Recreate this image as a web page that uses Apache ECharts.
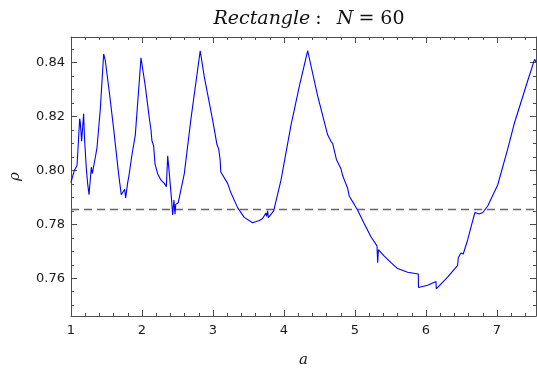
<!DOCTYPE html>
<html>
<head>
<meta charset="utf-8">
<script src="https://cdn.jsdelivr.net/npm/echarts@6/dist/echarts.min.js"></script>
<style>
  html, body { margin: 0; padding: 0; background: #fff; }
  #chart { width: 537px; height: 373px; }
</style>
</head>
<body>
<div id="chart"></div>
<script>
// a values (x) and rho values (y)
const aValues = [
  1.000, 1.020, 1.047, 1.085, 1.105, 1.122, 1.130, 1.150, 1.178, 1.190,
  1.216, 1.235, 1.254, 1.270, 1.286, 1.300, 1.320, 1.342, 1.366, 1.413,
  1.460, 1.483, 1.540, 1.600, 1.670, 1.708, 1.732, 1.756, 1.770, 1.798,
  1.817, 1.860, 1.906, 1.986, 2.047, 2.100, 2.127, 2.140, 2.165, 2.183,
  2.220, 2.268, 2.315, 2.343, 2.350, 2.362, 2.385, 2.418, 2.432, 2.450,
  2.465, 2.475, 2.490, 2.510, 2.596, 2.690, 2.820, 2.877, 2.996, 3.056,
  3.080, 3.100, 3.110, 3.130, 3.206, 3.254, 3.347, 3.440, 3.558, 3.652,
  3.700, 3.723, 3.745, 3.755, 3.770, 3.780, 3.807, 3.855, 3.958, 4.099,
  4.216, 4.334, 4.475, 4.615, 4.662, 4.685, 4.732, 4.740, 4.803, 4.826,
  4.850, 4.896, 4.920, 4.990, 5.038, 5.131, 5.225, 5.310, 5.320, 5.330,
  5.413, 5.507, 5.601, 5.742, 5.892, 5.895, 6.023, 6.141, 6.145, 6.305,
  6.446, 6.455, 6.493, 6.510, 6.525, 6.587, 6.634, 6.690, 6.704, 6.750,
  6.800, 6.870, 7.010, 7.150, 7.244, 7.430, 7.530, 7.550
];
const rhoValues = [
  0.7955, 0.7975, 0.8000, 0.8018, 0.8110, 0.8192, 0.8180, 0.8108, 0.8210, 0.8120,
  0.8006, 0.7950, 0.7910, 0.7916, 0.8012, 0.7988, 0.7982, 0.8048, 0.8084, 0.8228,
  0.8432, 0.8408, 0.8290, 0.8156, 0.7988, 0.7910, 0.7910, 0.7930, 0.7898, 0.7954,
  0.7982, 0.8060, 0.8132, 0.8418, 0.8312, 0.8200, 0.8150, 0.8110, 0.8090, 0.8024,
  0.7988, 0.7964, 0.7952, 0.7940, 0.7935, 0.8054, 0.7988, 0.7886, 0.7835, 0.7890,
  0.7838, 0.7874, 0.7868, 0.7880, 0.7988, 0.8192, 0.8444, 0.8348, 0.8186, 0.8096,
  0.8080, 0.8042, 0.7994, 0.7988, 0.7952, 0.7916, 0.7862, 0.7826, 0.7806, 0.7814,
  0.7822, 0.7826, 0.7842, 0.7830, 0.7850, 0.7825, 0.7830, 0.7850, 0.7964, 0.8168,
  0.8312, 0.8444, 0.8276, 0.8132, 0.8108, 0.8100, 0.8048, 0.8040, 0.8006, 0.7982,
  0.7965, 0.7934, 0.7904, 0.7874, 0.7852, 0.7802, 0.7754, 0.7720, 0.7658, 0.7706,
  0.7682, 0.7658, 0.7636, 0.7622, 0.7616, 0.7566, 0.7574, 0.7588, 0.7561, 0.7604,
  0.7648, 0.7676, 0.7694, 0.7688, 0.7690, 0.7742, 0.7790, 0.7844, 0.7850, 0.7838,
  0.7844, 0.7868, 0.7946, 0.8078, 0.8174, 0.8330, 0.8412, 0.8402
]
const dashedLevel = 0.7855

// tick marks / labels
const xMajorTicks = [1, 2, 3, 4, 5, 6, 7]
const yMajorTicks = [0.76, 0.78, 0.80, 0.82, 0.84]
const xMinorTicks = []
for (let i = 5; i <= 37; i++) xMinorTicks.push(+(i * 0.2).toFixed(2))
const yMinorTicks = []
for (let i = 150; i <= 169; i++) yMinorTicks.push(+(i * 0.005).toFixed(3))

const X_MIN = 1, X_MAX = 7.55
const Y_MIN = 0.746, Y_MAX = 0.8495
const frameColor = '#4d4d4d'
const labelColor = '#1a1a1a'

const chart = echarts.init(document.getElementById('chart'), null, { renderer: 'canvas' })

const lineData = aValues.map((a, i) => [a, rhoValues[i]])
const dashedData = [[X_MIN, dashedLevel], [X_MAX, dashedLevel]]

function makeAxis(kind, position, ticks, tickLen, withLabels, showLine) {
  const axis = {
    type: 'value',
    gridIndex: 0,
    position: position,
    min: kind === 'x' ? X_MIN : Y_MIN,
    max: kind === 'x' ? X_MAX : Y_MAX,
    axisLine: { show: showLine, onZero: false, lineStyle: { color: frameColor, width: 1 } },
    axisTick: {
      show: true,
      inside: true,
      length: tickLen,
      customValues: ticks,
      lineStyle: { color: frameColor, width: 1 }
    },
    axisLabel: { show: false },
    splitLine: { show: false },
    minorTick: { show: false }
  }
  if (withLabels) {
    axis.axisLabel = {
      show: true,
      customValues: ticks,
      fontFamily: 'DejaVu Sans',
      fontSize: 13,
      color: labelColor,
      margin: kind === 'x' ? 8 : 6,
      formatter: kind === 'x' ? (v) => String(Math.round(v)) : (v) => v.toFixed(2)
    }
  }
  return axis
}

const xMain = makeAxis('x', 'bottom', xMajorTicks, 6, true, true)
xMain.name = 'a'
xMain.nameLocation = 'middle'
xMain.nameGap = 37
xMain.nameTextStyle = { fontFamily: 'DejaVu Serif', fontStyle: 'italic', fontSize: 15, color: labelColor }

const yMain = makeAxis('y', 'left', yMajorTicks, 6, true, true)
yMain.name = 'ρ'
yMain.nameLocation = 'middle'
yMain.nameGap = 48
yMain.nameRotate = 90
yMain.nameTextStyle = { fontFamily: 'DejaVu Serif', fontStyle: 'italic', fontSize: 15, color: labelColor }

const option = {
  animation: false,
  backgroundColor: '#fff',
  title: {
    text: '{it|Rectangle} {rm|:}   {it|N} {rm|= 60}',
    left: 304,
    top: 5,
    textAlign: 'center',
    textStyle: {
      fontWeight: 'normal',
      rich: {
        it: { fontFamily: 'DejaVu Serif', fontStyle: 'italic', fontWeight: 'normal', fontSize: 19, color: '#111' },
        rm: { fontFamily: 'DejaVu Serif', fontWeight: 'normal', fontSize: 19, color: '#111' }
      }
    }
  },
  grid: { left: 70, right: 1, top: 37, bottom: 48, containLabel: false },
  xAxis: [
    xMain,
    makeAxis('x', 'bottom', xMinorTicks, 3, false, false),
    makeAxis('x', 'top', xMajorTicks, 6, false, true),
    makeAxis('x', 'top', xMinorTicks, 3, false, false)
  ],
  yAxis: [
    yMain,
    makeAxis('y', 'left', yMinorTicks, 3, false, false),
    makeAxis('y', 'right', yMajorTicks, 6, false, true),
    makeAxis('y', 'right', yMinorTicks, 3, false, false)
  ],
  series: [
    {
      type: 'line',
      xAxisIndex: 0,
      yAxisIndex: 0,
      data: dashedData,
      symbol: 'none',
      silent: true,
      lineStyle: { color: '#666', width: 1.5, type: [8, 5] }
    },
    {
      type: 'line',
      xAxisIndex: 0,
      yAxisIndex: 0,
      data: lineData,
      symbol: 'none',
      smooth: false,
      lineStyle: { color: '#0000ff', width: 1.1 }
    }
  ]
}

chart.setOption(option)
</script>
</body>
</html>
